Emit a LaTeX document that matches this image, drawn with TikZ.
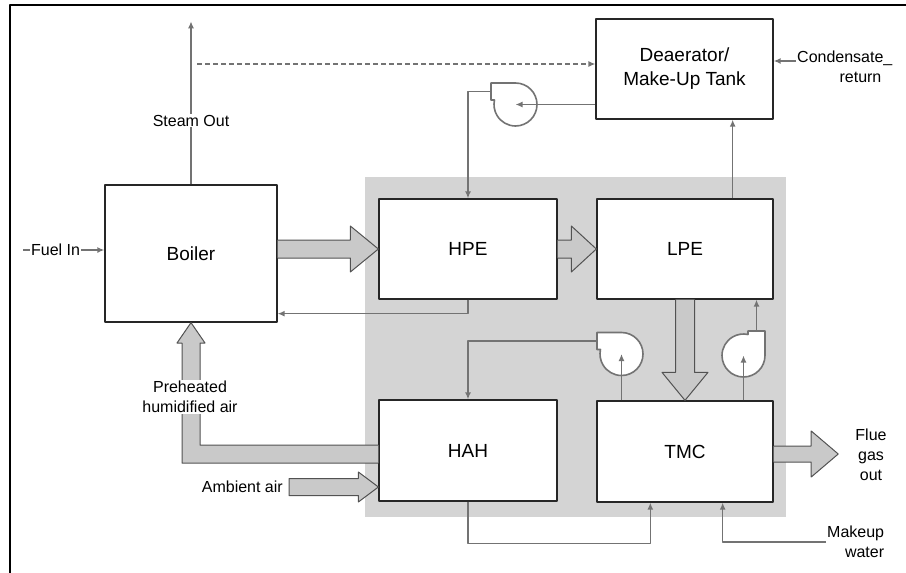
\documentclass[tikz,border=0pt]{standalone}
\usepackage{fontspec}
\setmainfont{Liberation Sans}
\usetikzlibrary{arrows.meta,calc,positioning}

\begin{document}
\begin{tikzpicture}[x=1pt,y=-1pt,line join=round,>={Latex[length=7pt,width=6pt]},
 unit/.style={draw=black!85,line width=1.3pt,fill=white,inner sep=0pt,
  align=center,font=\fontsize{19}{24}\selectfont},
 flow/.style={draw=black!55,line width=1.6pt},
 fat/.style={draw=black!68,fill=black!21,line width=1pt},
 lbl/.style={inner sep=1pt,align=center,font=\fontsize{16}{20}\selectfont},
 pump/.pic={\filldraw[flow,fill=white] (-24.5,-21.5) -- (0,-21.5)
  arc[start angle=-90,end angle=192,radius=21.5] -- (-24.5,-4.5) -- cycle;}]
\useasboundingbox (0,0) rectangle (906,573);
% frame and shaded recovery block
\draw[line width=2pt] (906,5) -- (10,5) -- (10,575);
\fill[black!17] (365,177) rectangle (786,517);

% units
\node[unit,minimum width=172pt,minimum height=137pt] (boiler) at (191,253.5) {Boiler};
\node[unit,minimum width=178pt,minimum height=100pt] (hpe) at (468,249) {HPE};
\node[unit,minimum width=176pt,minimum height=100pt] (lpe) at (685,249) {LPE};
\node[unit,minimum width=178pt,minimum height=101pt] (hah) at (468,450.5) {HAH};
\node[unit,minimum width=176pt,minimum height=101pt] (tmc) at (685,451.5) {TMC};
\node[unit,minimum width=177pt,minimum height=100pt] (deaer) at (684.5,69) {Deaerator/\\Make-Up Tank};

% free labels
\node[lbl,anchor=east] (ambl) at (284,487) {Ambient air};
\node[lbl] (fluel) at (871,455) {Flue\\gas\\out};
\node[lbl,align=right,anchor=west] (mkup) at (826,542) {Makeup\\water};
\node[lbl,anchor=west] (cond) at (796,58) {Condensate\_};
\node[lbl,anchor=east] (ret) at ($(cond.east)+(-11,19)$) {return};
\coordinate (amb) at ($(ambl.east)+(5,0)$);
\coordinate (flue) at ($(fluel.west)+(-16,-1)$);

% gas and air streams
\foreach \s/\t/\w/\h/\l in {boiler.east |- hpe.west/hpe.west/9/23/28,
  hpe.east/lpe.west/9/23/25, tmc.east |- flue/flue/8/23/27}
 \filldraw[fat] ($(\s)+(0,-\w)$) -- ($(\t)+(-\l,-\w)$) -- ($(\t)+(-\l,-\h)$)
  -- (\t) -- ($(\t)+(-\l,\h)$) -- ($(\t)+(-\l,\w)$) -- ($(\s)+(0,\w)$);
\filldraw[fat] ($(amb)+(0,-8.5)$) -- ($(hah.west |- amb)+(-20,-8.5)$)
 -- ($(hah.west |- amb)+(-20,-15)$) -- (hah.west |- amb)
 -- ($(hah.west |- amb)+(-20,15)$) -- ($(hah.west |- amb)+(-20,8.5)$)
 -- ($(amb)+(0,8.5)$) -- cycle;
\filldraw[fat] ($(lpe.south)+(-9.5,0)$) -- ($(tmc.north)+(-9.5,-28)$)
 -- ($(tmc.north)+(-23,-28)$) -- (tmc.north) -- ($(tmc.north)+(23,-28)$)
 -- ($(tmc.north)+(9.5,-28)$) -- ($(lpe.south)+(9.5,0)$);
\filldraw[fat] (hah.west |- 0,445) -- (200,445) -- (200,343) -- (205,343)
 -- (boiler.south) -- (177,343) -- (182,343) -- (182,463) -- (hah.west |- 0,463);
\node[lbl,fill=white] (pre) at (190,397) {Preheated\\humidified air};

% pumps
\coordinate (p1) at (515.5,104.5);
\coordinate (p2) at (621.5,354);
\coordinate (p3) at (743.5,355.5);
\pic at (p1) {pump};
\pic at (p2) {pump};
\pic[rotate=-90] at (p3) {pump};

% water and steam lines
\draw[flow,->] (boiler.north) -- node[lbl,fill=white,pos=.39] (steam) {Steam Out} ++(0,-163);
\coordinate (fuel0) at (23,250);
\draw[flow,->] (fuel0) -- node[lbl,fill=white,pos=.4] (fuel) {Fuel In} (fuel0 -| boiler.west);
\coordinate (dash0) at (197,64);
\draw[flow,dash pattern=on 5pt off 3pt,line width=1.3pt,->] (dash0) -- (dash0 -| deaer.west);
\draw[flow,->] ($(cond.west)+(0,3)$) -- ($(cond.west -| deaer.east)+(0,3)$);
\draw[flow,->] (deaer.west |- p1) -- (p1);
\draw[flow,->] ($(p1)+(-24.5,-13)$) -| (hpe.north);
\draw[flow,->] (hpe.south) |- ($(boiler.south east)+(0,-9)$);
\draw[flow,->] ($(lpe.north east)+(-41,0)$) -- ($(deaer.south east)+(-41,0)$);
\draw[flow,->] (tmc.north -| p2) -- (p2);
\draw[flow,->] ($(p2)+(-24.5,-13)$) -| (hah.north);
\draw[flow,->] (tmc.north -| p3) -- (p3);
\draw[flow,->] ($(p3)+(13,-24.5)$) coordinate (p3out) -- (p3out |- lpe.south);
\draw[flow,->] (hah.south) -- ++(0,42) -| ($(tmc.south west)+(54,0)$);
\draw[flow,->] (mkup.west) -| ($(tmc.south east)+(-51,0)$);
\end{tikzpicture}
\end{document}
